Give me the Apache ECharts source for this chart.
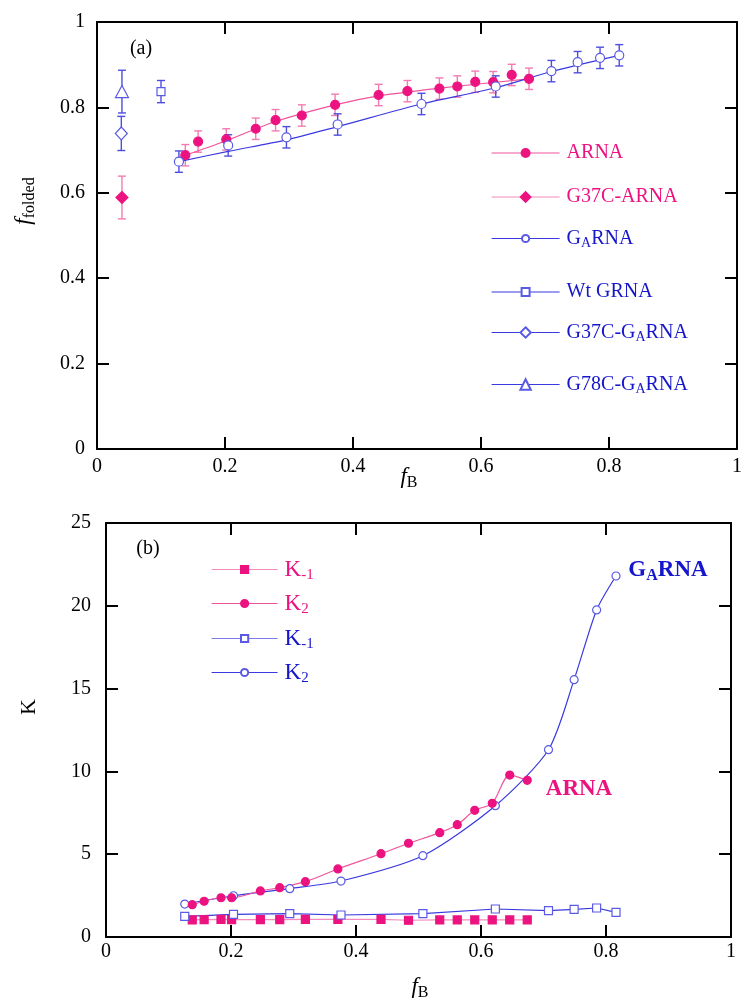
<!DOCTYPE html>
<html>
<head>
<meta charset="utf-8">
<script src="https://cdn.jsdelivr.net/npm/echarts@6/dist/echarts.min.js"></script>
<style>
  html, body { margin: 0; padding: 0; background: #ffffff; }
  #chart { width: 745px; height: 1002px; }
</style>
</head>
<body>
<div id="chart"></div>
<script>
// ---------- Panel (a): fraction folded versus f_B ----------
const arnaFB      = [0.138, 0.158, 0.202, 0.248, 0.279, 0.320, 0.372, 0.440, 0.485, 0.535, 0.563, 0.591, 0.619, 0.648, 0.675];
const arnaFolded  = [0.688, 0.720, 0.725, 0.750, 0.770, 0.781, 0.806, 0.829, 0.838, 0.844, 0.849, 0.860, 0.859, 0.876, 0.867];
const arnaErr     = [0.025, 0.025, 0.025, 0.025, 0.025, 0.025, 0.025, 0.025, 0.025, 0.025, 0.025, 0.025, 0.025, 0.025, 0.025];
const arnaFitFB     = [0.138, 0.202, 0.279, 0.372, 0.440, 0.535, 0.675];
const arnaFitFolded = [0.688, 0.722, 0.767, 0.806, 0.827, 0.845, 0.867];

const garnaFB     = [0.128, 0.205, 0.296, 0.376, 0.507, 0.623, 0.710, 0.751, 0.786, 0.816];
const garnaFolded = [0.673, 0.711, 0.730, 0.760, 0.808, 0.849, 0.885, 0.906, 0.916, 0.922];
const garnaErr    = [0.025, 0.025, 0.025, 0.025, 0.025, 0.025, 0.025, 0.025, 0.025, 0.025];
const garnaFitFB     = [0.128, 0.205, 0.296, 0.376, 0.507, 0.623, 0.710, 0.816];
const garnaFitFolded = [0.673, 0.697, 0.724, 0.755, 0.808, 0.846, 0.884, 0.922];

const g37cArnaFB  = [0.039]; const g37cArnaFolded  = [0.589]; const g37cArnaErr  = [0.050];
const wtGrnaFB    = [0.100]; const wtGrnaFolded    = [0.837]; const wtGrnaErr    = [0.026];
const g37cGarnaFB = [0.038]; const g37cGarnaFolded = [0.739]; const g37cGarnaErr = [0.040];
const g78cGarnaFB = [0.039]; const g78cGarnaFolded = [0.837]; const g78cGarnaErr = [0.050];

// ---------- Panel (b): equilibrium constants versus f_B ----------
const arnaKFB  = [0.138, 0.157, 0.184, 0.201, 0.247, 0.278, 0.319, 0.371, 0.440, 0.484, 0.534, 0.562, 0.590, 0.618, 0.646, 0.674];
const arnaK2   = [1.95, 2.16, 2.37, 2.37, 2.78, 2.98, 3.34, 4.11, 5.03, 5.66, 6.30, 6.78, 7.65, 8.07, 9.78, 9.46];
const arnaKm1  = [1.03, 1.05, 1.07, 1.05, 1.05, 1.05, 1.07, 1.07, 1.07, 1.01, 1.03, 1.03, 1.03, 1.03, 1.03, 1.03];
const garnaKFB = [0.126, 0.204, 0.294, 0.376, 0.507, 0.623, 0.708, 0.749, 0.785, 0.816];
const garnaK2  = [1.99, 2.49, 2.92, 3.38, 4.91, 7.93, 11.31, 15.54, 19.75, 21.80];
const garnaKm1 = [1.25, 1.37, 1.41, 1.33, 1.41, 1.69, 1.59, 1.67, 1.75, 1.49];

// ---------- Axis ticks ----------
const fbTicks     = [0, 0.2, 0.4, 0.6, 0.8, 1];
const foldedTicks = [0, 0.2, 0.4, 0.6, 0.8, 1];
const kTicks      = [0, 5, 10, 15, 20, 25];

// ---------- Styling ----------
const SERIF = '"Liberation Serif", "Times New Roman", serif';
const PINK = '#ec1380';
const PINK_LINE = '#f0559c';
const PINK_ERR = '#f47bb2';
const PINK_SOFT = '#f38cbb';
const BLUE_TEXT = '#1616cc';
const BLUE_LINE = '#3a3ae0';
const BLUE_MARK = '#5a5ae6';
const BLUE_ERR = '#4e4ede';

const zip = (xs, ys) => xs.map((x, i) => [x, ys[i]]);

function tickAxis(ticks, position, gridIndex, showLabels, labelMargin) {
  return {
    type: 'value',
    gridIndex: gridIndex,
    position: position,
    min: ticks[0],
    max: ticks[ticks.length - 1],
    interval: ticks[1] - ticks[0],
    axisLine: { show: true, onZero: false, lineStyle: { color: '#000', width: 2 } },
    axisTick: { show: true, inside: true, length: 12, lineStyle: { color: '#000', width: 2 } },
    splitLine: { show: false },
    axisLabel: { show: showLabels, margin: labelMargin, color: '#000', fontFamily: SERIF, fontSize: 20 }
  };
}

function errorBars(xs, ys, errs, color, xi, yi) {
  return {
    type: 'custom',
    xAxisIndex: xi, yAxisIndex: yi,
    silent: true, z: 1,
    data: xs.map((x, i) => [x, ys[i] - errs[i], ys[i] + errs[i]]),
    renderItem: function (params, api) {
      const lo = api.coord([api.value(0), api.value(1)]);
      const hi = api.coord([api.value(0), api.value(2)]);
      const hw = 4;
      const st = { stroke: color, lineWidth: 1.4 };
      return {
        type: 'group',
        children: [
          { type: 'line', shape: { x1: lo[0], y1: lo[1], x2: hi[0], y2: hi[1] }, style: st },
          { type: 'line', shape: { x1: lo[0] - hw, y1: lo[1], x2: lo[0] + hw, y2: lo[1] }, style: st },
          { type: 'line', shape: { x1: hi[0] - hw, y1: hi[1], x2: hi[0] + hw, y2: hi[1] }, style: st }
        ]
      };
    }
  };
}

function markers(name, xs, ys, symbol, size, fill, stroke, xi, yi) {
  return {
    type: 'line', name: name,
    xAxisIndex: xi, yAxisIndex: yi,
    data: zip(xs, ys),
    symbol: symbol, symbolSize: size, showSymbol: true,
    lineStyle: { width: 0, opacity: 0 },
    itemStyle: { color: fill, borderColor: stroke, borderWidth: 1.2, opacity: 1 },
    z: 4
  };
}

function fitLine(xs, ys, color, xi, yi) {
  return {
    type: 'line', xAxisIndex: xi, yAxisIndex: yi,
    data: zip(xs, ys), smooth: 0.3,
    symbol: 'none', showSymbol: false, silent: true,
    lineStyle: { color: color, width: 1.2 },
    z: 2
  };
}

function curve(name, xs, ys, symbol, fill, stroke, lineColor, smooth) {
  return {
    type: 'line', name: name,
    xAxisIndex: 2, yAxisIndex: 2,
    data: zip(xs, ys), smooth: smooth,
    symbol: symbol, symbolSize: 8, showSymbol: true,
    lineStyle: { color: lineColor, width: 1.2 },
    itemStyle: { color: fill, borderColor: stroke, borderWidth: 1.2 },
    z: 3
  };
}

// Legend entries, each placed as its own legend block
const subStyle = (size, pad) => ({ fontSize: size, fontFamily: SERIF, padding: [pad, 0, 0, 0] });
const legendA = [
  { name: 'ARNA',        text: 'ARNA',             color: PINK,      line: PINK_LINE, y: 153, h: 10 },
  { name: 'G37C-ARNA',   text: 'G37C-ARNA',        color: PINK,      line: PINK_SOFT, y: 197, h: 12 },
  { name: 'GARNA',       text: 'G{s|A}RNA',        color: BLUE_TEXT, line: BLUE_LINE, y: 240, h: 9 },
  { name: 'Wt GRNA',     text: 'Wt GRNA',          color: BLUE_TEXT, line: BLUE_LINE, y: 292, h: 10 },
  { name: 'G37C-GARNA',  text: 'G37C-G{s|A}RNA',   color: BLUE_TEXT, line: BLUE_LINE, y: 334, h: 13 },
  { name: 'G78C-GARNA',  text: 'G78C-G{s|A}RNA',   color: BLUE_TEXT, line: BLUE_LINE, y: 386, h: 13 }
];
const legendB = [
  { name: 'ARNA K-1',  text: 'K{s|-1}', color: PINK,      line: PINK_SOFT, y: 571 },
  { name: 'ARNA K2',   text: 'K{s|2}',  color: PINK,      line: PINK_LINE, y: 605 },
  { name: 'GARNA K-1', text: 'K{s|-1}', color: BLUE_TEXT, line: '#7c7ce8', y: 640 },
  { name: 'GARNA K2',  text: 'K{s|2}',  color: BLUE_TEXT, line: BLUE_LINE, y: 674 }
];

function legendBlock(e, left, itemWidth, itemHeight, fontSize, subSize, subPad) {
  const hasSub = e.text.indexOf('{s|') >= 0;
  const textH = hasSub ? Math.max(fontSize, subSize + subPad) : fontSize;
  return {
    left: left,
    top: e.y - textH / 2,
    padding: 0,
    itemGap: 0,
    itemWidth: itemWidth,
    itemHeight: itemHeight,
    selectedMode: false,
    data: [e.name],
    formatter: () => e.text,
    lineStyle: { color: e.line, width: 1.2, opacity: 1, type: 'solid' },
    textStyle: { color: e.color, fontFamily: SERIF, fontSize: fontSize, padding: [0, 0, 0, 2], rich: { s: subStyle(subSize, subPad) } }
  };
}

const legends = legendA.map(e => legendBlock(e, 491, 68, e.h, 20, 14, 9))
  .concat(legendB.map(e => legendBlock(e, 211, 66, 9, 23, 15, 11)));

function label(x, y, text, font, color, rich, rotation) {
  return {
    type: 'text', x: x, y: y, rotation: rotation || 0, silent: true,
    style: { text: text, font: font, fill: color, align: 'center', verticalAlign: 'middle', rich: rich || {} }
  };
}

const fbRich = {
  i: { fontFamily: SERIF, fontStyle: 'italic', fontSize: 23 },
  s: { fontFamily: SERIF, fontSize: 16, padding: [11, 0, 0, 0] }
};
const foldedRich = {
  i: { fontFamily: SERIF, fontStyle: 'italic', fontSize: 23 },
  s: { fontFamily: SERIF, fontSize: 16, padding: [11, 0, 0, 0] }
};

const chart = echarts.init(document.getElementById('chart'), null, { renderer: 'canvas' });
chart.setOption({
  animation: false,
  backgroundColor: '#ffffff',
  grid: [
    { left: 97, top: 22, width: 643, height: 427 },
    { left: 106, top: 523, width: 625, height: 414 }
  ],
  xAxis: [
    tickAxis(fbTicks, 'bottom', 0, true, 8),
    tickAxis(fbTicks, 'top', 0, false, 8),
    tickAxis(fbTicks, 'bottom', 1, true, 5),
    tickAxis(fbTicks, 'top', 1, false, 5)
  ],
  yAxis: [
    tickAxis(foldedTicks, 'left', 0, true, 12),
    tickAxis(foldedTicks, 'right', 0, false, 12),
    tickAxis(kTicks, 'left', 1, true, 15),
    tickAxis(kTicks, 'right', 1, false, 15)
  ],
  legend: legends,
  series: [
    // panel (a)
    errorBars(arnaFB, arnaFolded, arnaErr, PINK_ERR, 0, 0),
    errorBars(garnaFB, garnaFolded, garnaErr, BLUE_ERR, 0, 0),
    errorBars(g37cArnaFB, g37cArnaFolded, g37cArnaErr, PINK_ERR, 0, 0),
    errorBars(wtGrnaFB, wtGrnaFolded, wtGrnaErr, BLUE_ERR, 0, 0),
    errorBars(g37cGarnaFB, g37cGarnaFolded, g37cGarnaErr, BLUE_ERR, 0, 0),
    errorBars(g78cGarnaFB, g78cGarnaFolded, g78cGarnaErr, BLUE_ERR, 0, 0),
    fitLine(arnaFitFB, arnaFitFolded, PINK_LINE, 0, 0),
    fitLine(garnaFitFB, garnaFitFolded, BLUE_LINE, 0, 0),
    markers('ARNA', arnaFB, arnaFolded, 'circle', 9, PINK, PINK, 0, 0),
    markers('G37C-ARNA', g37cArnaFB, g37cArnaFolded, 'diamond', 12, PINK, PINK, 0, 0),
    markers('GARNA', garnaFB, garnaFolded, 'circle', 9, '#ffffff', BLUE_MARK, 0, 0),
    markers('Wt GRNA', wtGrnaFB, wtGrnaFolded, 'rect', 8, '#ffffff', BLUE_MARK, 0, 0),
    markers('G37C-GARNA', g37cGarnaFB, g37cGarnaFolded, 'diamond', [12, 13], '#ffffff', BLUE_MARK, 0, 0),
    markers('G78C-GARNA', g78cGarnaFB, g78cGarnaFolded, 'triangle', [13, 12], '#ffffff', BLUE_MARK, 0, 0),
    // panel (b)
    curve('ARNA K-1', arnaKFB, arnaKm1, 'rect', PINK, PINK, PINK_SOFT, false),
    curve('GARNA K-1', garnaKFB, garnaKm1, 'rect', '#ffffff', BLUE_MARK, BLUE_LINE, false),
    curve('GARNA K2', garnaKFB, garnaK2, 'circle', '#ffffff', BLUE_MARK, BLUE_LINE, 0.25),
    curve('ARNA K2', arnaKFB, arnaK2, 'circle', PINK, PINK, PINK_LINE, 0.3)
  ],
  graphic: [
    label(141, 49, '(a)', '20px ' + SERIF, '#000'),
    label(148, 549, '(b)', '20px ' + SERIF, '#000'),
    label(409, 477, '{i|f}{s|B}', '23px ' + SERIF, '#000', fbRich),
    label(420, 987, '{i|f}{s|B}', '23px ' + SERIF, '#000', fbRich),
    label(24, 201, '{i|f}{s|folded}', '23px ' + SERIF, '#000', foldedRich, Math.PI / 2),
    label(29, 707, 'K', '22px ' + SERIF, '#000', null, Math.PI / 2),
    label(579, 789, 'ARNA', 'bold 23px ' + SERIF, PINK),
    label(668, 570, 'G{s|A}RNA', 'bold 23px ' + SERIF, BLUE_TEXT,
      { s: { fontFamily: SERIF, fontWeight: 'bold', fontSize: 16, padding: [11, 0, 0, 0] } })
  ]
});
</script>
</body>
</html>
